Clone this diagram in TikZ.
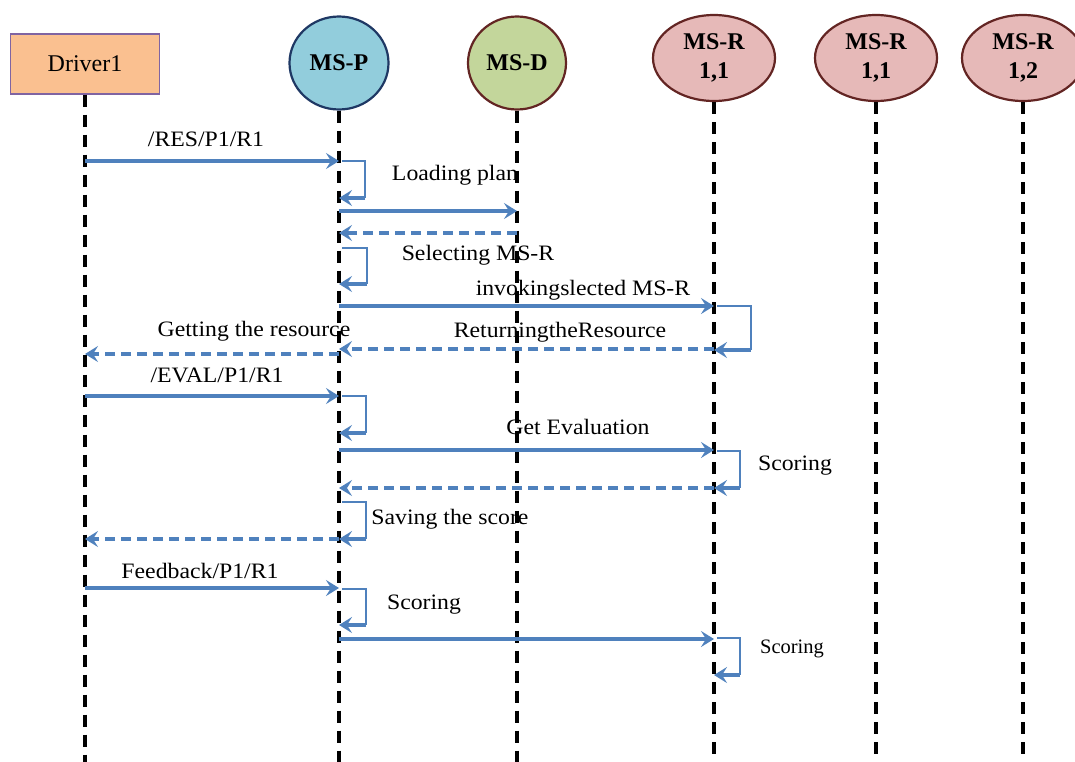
\documentclass[tikz,border=0pt]{standalone}
\usepackage{fontspec}
\setmainfont{Liberation Serif}[FakeStretch=1.08]
\newfontfamily\hdfont{Liberation Serif}
\usetikzlibrary{arrows.meta,shapes.geometric,calc}
\definecolor{msgblue}{HTML}{4F81BD}
\definecolor{drvfill}{HTML}{FAC090}
\definecolor{drvline}{HTML}{8064A2}
\definecolor{pfill}{HTML}{92CDDC}
\definecolor{pline}{HTML}{1F3864}
\definecolor{dfill}{HTML}{C3D69B}
\definecolor{rfill}{HTML}{E6B9B8}
\definecolor{rline}{HTML}{632523}

\tikzset{
  tipstyle/.style={-{Stealth[length=13pt,width=16pt,inset=5pt]}},
  msg/.style={draw=msgblue, line width=3.2pt, tipstyle},
  ret/.style={msg, dash pattern=on 10pt off 6pt},
  loopline/.style={draw=msgblue, line width=1.5pt},
  life/.style={draw=black, line width=3.2pt, dash pattern=on 12pt off 8pt},
  lbl/.style={font=\fontsize{22}{24}\selectfont, inner sep=0pt},
  hd/.style={font=\hdfont\bfseries\fontsize{24}{29}\selectfont, align=center},
  actor/.style={ellipse, line width=2.2pt, inner sep=0pt},
}

% self message on a lifeline: #1 lifeline node, #2 top y, #3 bottom y, #4 width
\newcommand\selfmsg[4]{%
  \draw[loopline] ($(#1 |- 0,#2)+(3,0)$) -| ($(#1 |- 0,#3)+(#4,0)$);
  \draw[msg] ($(#1 |- 0,#3)+(#4,0)$) -- (#1 |- 0,#3);
}

\begin{document}
\begin{tikzpicture}[x=1pt,y=-1pt]
\useasboundingbox (0,0) rectangle (1075,761);
\clip (0,0) rectangle (1075,761);

% participants
\node[draw=drvline, fill=drvfill, line width=1.2pt, minimum width=149pt,
      minimum height=60pt, inner sep=0pt,
      font=\hdfont\fontsize{24}{26}\selectfont] (drv) at (85,64) {Driver1};
\node[actor, draw=pline, fill=pfill, minimum width=99pt, minimum height=93pt,
      hd] (P) at (339,63) {MS-P};
\node[actor, draw=rline, fill=dfill, minimum width=98pt, minimum height=93pt,
      hd] (MD) at (517,63) {MS-D};
\node[actor, draw=rline, fill=rfill, minimum width=122pt, minimum height=86pt,
      hd] (R1) at (714,58) {MS-R\\1,1};
\node[actor, draw=rline, fill=rfill, minimum width=122pt, minimum height=86pt,
      hd] (R2) at (876,58) {MS-R\\1,1};
\node[actor, draw=rline, fill=rfill, minimum width=122pt, minimum height=86pt,
      hd] (R3) at (1023,58) {MS-R\\1,2};

% lifelines
\foreach \n in {drv,P,MD,R1,R2,R3}
  \draw[life] (\n.south) -- (\n.south |- 0,770);

% message labels
\node[lbl] (t1)  at (206,139) {/RES/P1/R1};
\node[lbl] (t2)  at (455,175) {Loading plan};
\node[lbl] (t3)  at (478,255) {Selecting MS-R};
\node[lbl] (t4)  at (583,290) {invokingslected MS-R};
\node[lbl] (t5)  at (560,332) {ReturningtheResource};
\node[lbl] (t6)  at (254,331) {Getting the resource};
\node[lbl] (t7)  at (217,375) {/EVAL/P1/R1};
\node[lbl] (t8)  at (578,427) {Get Evaluation};
\node[lbl] (t9)  at (795,466) {Scoring};
\node[lbl] (t10) at (450,519) {Saving the score};
\node[lbl] (t11) at (200,571) {Feedback/P1/R1};
\node[lbl] (t12) at (424,605) {Scoring};
\node[lbl, font=\hdfont\fontsize{20.5}{22}\selectfont] (t13) at (792,649) {Scoring};

% messages
\draw[msg] (drv |- 0,161) -- (P |- 0,161);
\selfmsg{P}{161}{198}{26}
\draw[msg] (P |- 0,211) -- (MD |- 0,211);
\draw[ret] (MD |- 0,233) -- (P |- 0,233);
\selfmsg{P}{248}{284}{28}
\draw[msg] (P |- 0,306) -- (R1 |- 0,306);
\selfmsg{R1}{306}{350}{37}
\draw[ret] (R1 |- 0,349) -- (P |- 0,349);
\draw[ret] (P |- 0,354) -- (drv |- 0,354);
\draw[msg] (drv |- 0,396) -- (P |- 0,396);
\selfmsg{P}{396}{433}{27}
\draw[msg] (P |- 0,450) -- (R1 |- 0,450);
\selfmsg{R1}{451}{488}{26}
\draw[ret] (R1 |- 0,488) -- (P |- 0,488);
\selfmsg{P}{502}{539}{27}
\draw[ret] (P |- 0,539) -- (drv |- 0,539);
\draw[msg] (drv |- 0,588) -- (P |- 0,588);
\selfmsg{P}{589}{625}{27}
\draw[msg] (P |- 0,639) -- (R1 |- 0,639);
\selfmsg{R1}{638}{675}{26}
\end{tikzpicture}
\end{document}
